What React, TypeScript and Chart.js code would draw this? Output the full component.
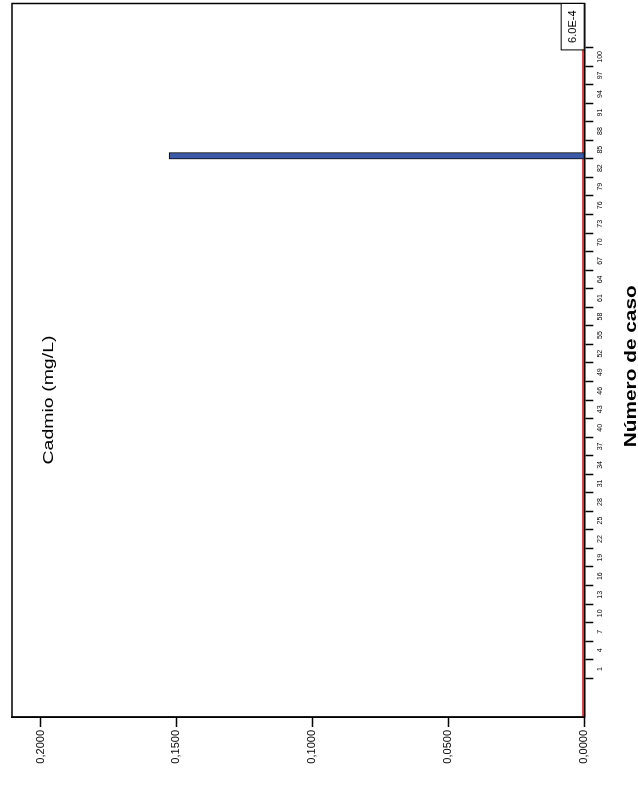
import React, { useEffect, useRef } from 'react';
import { Chart, registerables } from 'chart.js';
Chart.register(...registerables);

// ---- data ----
const caseNumbers = [84];
const cadmioValues = [0.1527];
const caseTicks = [1, 4, 7, 10, 13, 16, 19, 22, 25, 28, 31, 34, 37, 40, 43, 46, 49, 52, 55, 58, 61, 64, 67, 70, 73, 76, 79, 82, 85, 88, 91, 94, 97, 100];
const valueTicks = [0, 0.05, 0.1, 0.15, 0.2];
const refValue = 0.0006;
const refLabel = '6.0E-4';
const chartTitle = 'Cadmio (mg/L)';
const xTitle = 'Número de caso';

const W = 785;
const H = 638;
const FONT = 'Arial, "Liberation Sans", Helvetica, sans-serif';

function stretchedText(ctx: any, text: string, cx: number, baseline: number, font: string, sx: number) {
  ctx.save();
  ctx.font = font;
  ctx.fillStyle = '#000';
  ctx.textAlign = 'center';
  ctx.textBaseline = 'alphabetic';
  ctx.translate(cx, baseline);
  ctx.scale(sx, 1);
  ctx.fillText(text, 0, 0);
  ctx.restore();
}

const overlay = {
  id: 'overlay',
  beforeDatasetsDraw(chart: any) {
    const { ctx, chartArea: a, scales } = chart;
    const y = scales.y.getPixelForValue(refValue);
    ctx.save();
    ctx.strokeStyle = '#e8474a';
    ctx.lineWidth = 1.5;
    ctx.beginPath();
    ctx.moveTo(a.left, y);
    ctx.lineTo(a.right, y);
    ctx.stroke();
    ctx.restore();
  },
  afterDraw(chart: any) {
    const { ctx, chartArea: a, scales } = chart;
    const y = scales.y.getPixelForValue(refValue);
    // chart title inside plot
    stretchedText(ctx, chartTitle, a.left + 317, a.top + 41, `15px ${FONT}`, 1.3);
    // x axis title
    stretchedText(ctx, xTitle, (a.left + a.right) / 2 - 6, 636, `bold 16px ${FONT}`, 1.3);
    ctx.save();
    // frame
    ctx.strokeStyle = '#000';
    ctx.lineWidth = 1.5;
    ctx.strokeRect(a.left, a.top, a.right - a.left, a.bottom - a.top);
    // reference label box
    ctx.font = `11px ${FONT}`;
    ctx.textAlign = 'center';
    ctx.textBaseline = 'middle';
    const tw = ctx.measureText(refLabel).width;
    const bw = tw + 14;
    const bh = 23;
    const bx = a.right - bw;
    const by = y + 1.5 - bh;
    ctx.fillStyle = '#fff';
    ctx.fillRect(bx, by, bw, bh);
    ctx.lineWidth = 1;
    ctx.strokeRect(bx, by, bw, bh);
    ctx.fillStyle = '#000';
    ctx.fillText(refLabel, bx + bw / 2, by + bh / 2 + 0.5);
    ctx.restore();
  },
};

export default function App() {
  const ref = useRef<HTMLCanvasElement | null>(null);
  useEffect(() => {
    if (!ref.current) return;
    const chart = new Chart(ref.current, {
      type: 'bar',
      data: {
        datasets: [
          {
            label: chartTitle,
            data: caseNumbers.map((c, i) => ({ x: c, y: cadmioValues[i] })),
            backgroundColor: '#3d5aa9',
            borderColor: '#000',
            borderWidth: 1,
            barThickness: 6.5,
          },
        ],
      },
      options: {
        responsive: false,
        animation: false,
        devicePixelRatio: 1,
        layout: { padding: { top: 12, right: 3.5, left: 0, bottom: 0 } },
        plugins: { legend: { display: false }, tooltip: { enabled: false }, title: { display: false } },
        scales: {
          x: {
            type: 'linear',
            min: -5.076,
            max: 106.94,
            afterBuildTicks: (s: any) => {
              s.ticks = caseTicks.map((v) => ({ value: v }));
            },
            afterFit: (s: any) => {
              s.height = 53.7;
            },
            ticks: {
              autoSkip: false,
              maxRotation: 0,
              minRotation: 0,
              padding: 3,
              color: '#000',
              font: { size: 7, family: FONT },
              callback: (v: any) => String(v),
            },
            grid: { drawOnChartArea: false, drawTicks: true, tickLength: 9, color: '#000', tickWidth: 1.5 },
            border: { display: true, color: '#000', width: 1.5 },
            title: { display: false },
          },
          y: {
            type: 'linear',
            min: 0,
            max: 0.21048,
            afterBuildTicks: (s: any) => {
              s.ticks = valueTicks.map((v) => ({ value: v }));
            },
            afterFit: (s: any) => {
              s.width = 68;
            },
            ticks: {
              padding: 3,
              color: '#000',
              font: { size: 11, family: FONT },
              callback: (v: any) => Number(v).toFixed(4).replace('.', ','),
            },
            grid: { drawOnChartArea: false, drawTicks: true, tickLength: 10, color: '#000', tickWidth: 1.5 },
            border: { display: true, color: '#000', width: 1.5 },
          },
        },
      },
      plugins: [overlay],
    });
    return () => chart.destroy();
  }, []);

  return (
    <div
      style={{
        position: 'fixed',
        left: 0,
        top: 0,
        width: W,
        height: H,
        transformOrigin: '0 0',
        transform: `translateY(${W}px) rotate(-90deg)`,
        background: '#fff',
      }}
    >
      <canvas ref={ref} width={W} height={H} style={{ display: 'block', width: W, height: H }} />
    </div>
  );
}
